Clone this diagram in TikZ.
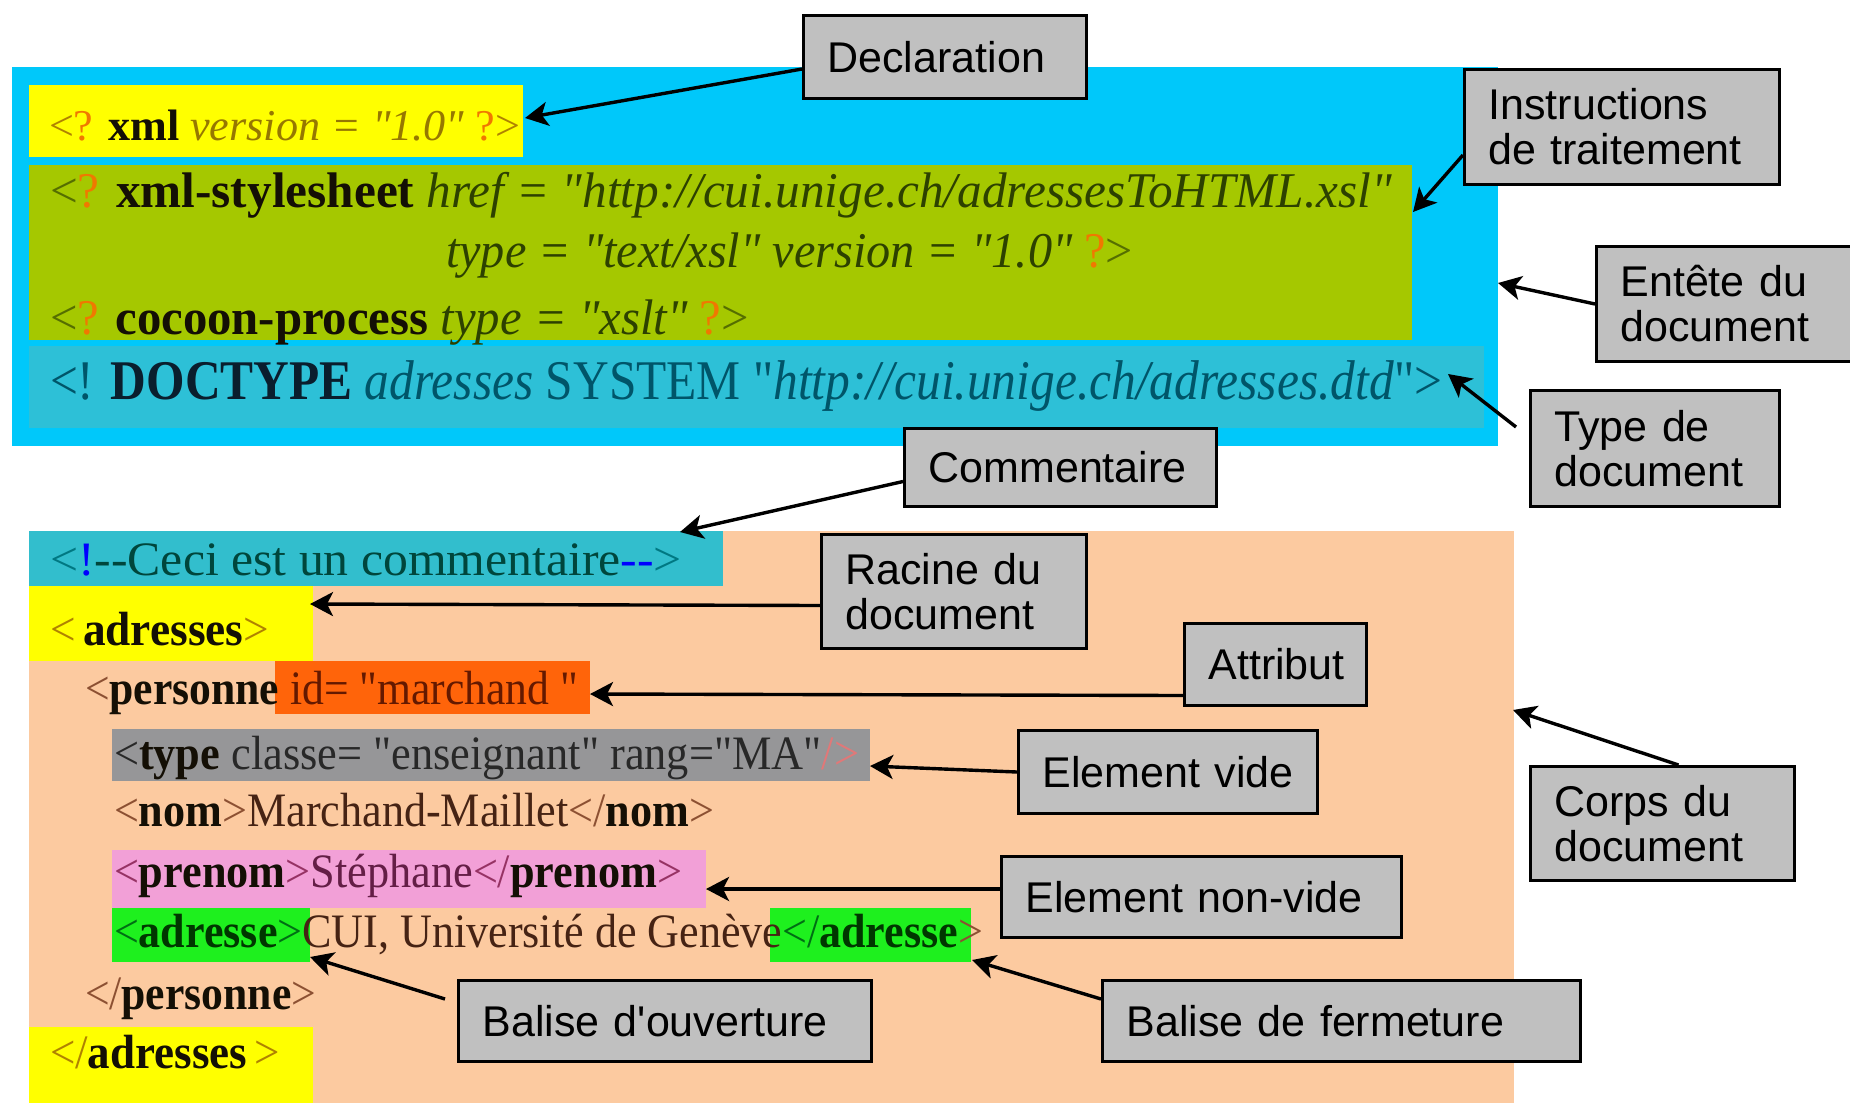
\documentclass[tikz,border=0pt]{standalone}
\usepackage{fontspec}
\usepackage{graphicx}
\setmainfont{Liberation Serif}
\newfontfamily\codefont{Liberation Serif}
\newfontfamily\lblfont{Liberation Sans}
\usetikzlibrary{arrows.meta}
\newcommand{\fitw}[2]{\resizebox{#1}{\height}{#2}}
\newcommand{\fsz}[1]{\codefont\fontsize{#1}{#1}\selectfont}
\definecolor{cblue}{RGB}{0,200,250}
\definecolor{cyel}{RGB}{255,255,0}
\definecolor{colive}{RGB}{165,200,0}
\definecolor{cteal}{RGB}{45,192,215}
\definecolor{cpeach}{RGB}{252,202,160}
\definecolor{ccomm}{RGB}{50,190,205}
\definecolor{corange}{RGB}{255,100,10}
\definecolor{cgray}{RGB}{150,150,152}
\definecolor{cpink}{RGB}{242,160,215}
\definecolor{cgreen}{RGB}{30,240,30}
\definecolor{lgray}{RGB}{192,192,192}
\definecolor{tq}{RGB}{240,120,0}
\definecolor{tgold}{RGB}{175,130,0}
\definecolor{tyelbr}{RGB}{150,120,0}
\definecolor{tol}{RGB}{85,110,0}
\definecolor{tgreen}{RGB}{45,65,0}
\definecolor{tteal}{RGB}{0,85,105}
\definecolor{tdoc}{RGB}{10,30,45}
\definecolor{tcteal}{RGB}{0,120,130}
\definecolor{tcdark}{RGB}{0,70,60}
\definecolor{tbrown}{RGB}{70,35,20}
\definecolor{tbr}{RGB}{140,80,50}
\definecolor{tred}{RGB}{100,25,0}
\definecolor{tdg}{RGB}{40,40,40}
\definecolor{tpr}{RGB}{225,120,120}
\definecolor{tpp}{RGB}{150,50,100}
\definecolor{tpd}{RGB}{100,30,70}
\definecolor{tgr}{RGB}{0,110,20}
\definecolor{tgd}{RGB}{0,55,0}
\definecolor{tblk}{RGB}{20,15,5}
\tikzset{
  code/.style={anchor=base west, inner sep=0pt, outer sep=0pt, text=tblk},
  lbl/.style={draw=black, line width=1.5pt, fill=lgray, anchor=north west,
    align=left, inner xsep=12pt, inner ysep=0pt, text=black,
    font=\lblfont\fontsize{21.5pt}{22.5pt}\selectfont},
  arr/.style={line width=1.7pt, -{Stealth[length=11.5pt,width=12pt,inset=3pt]}}
}
\begin{document}
\begin{tikzpicture}[x=0.5pt,y=-0.5pt]
\useasboundingbox (0,0) rectangle (1850,1103);
\fill[white] (0,0) rectangle (1850,1103);
% header regions
\fill[cblue] (12,67) rectangle (1498,446);
\fill[cyel] (29,85) rectangle (523,157);
\fill[colive] (29,165) rectangle (1412,340);
\fill[cteal] (29,346) rectangle (1484,428);
% body regions
\fill[cpeach] (29,531) rectangle (1514,1103);
\fill[ccomm] (29,531) rectangle (723,586);
\fill[cyel] (29,586) rectangle (313,661);
\fill[corange] (275,661) rectangle (590,714);
\fill[cgray] (112,729) rectangle (870,781);
\fill[cpink] (112,850) rectangle (706,908);
\fill[cgreen] (112,908) rectangle (310,962);
\fill[cgreen] (770,908) rectangle (971,962);
\fill[cyel] (29,1027) rectangle (313,1103);
% header code
\node[code, font=\fsz{22pt}] (l1) at (49,140) {\fitw{235.5pt}{{\color{tgold}<}{\color{tq}?} \textbf{xml} {\itshape\color{tyelbr}version = "1.0"} {\color{tq}?}{\color{tgold}>}}};
\node[code, font=\fsz{25pt}] (l2) at (50,207) {\fitw{671pt}{{\color{tol}<}{\color{tq}?} \textbf{xml-stylesheet} {\itshape\color{tgreen}href = "http://cui.unige.ch/adressesToHTML.xsl"}}};
\node[code, font=\fsz{25pt}] (l3) at (446,267) {\fitw{343.5pt}{{\itshape\color{tgreen}type = "text/xsl" version = "1.0"} {\color{tq}?}{\color{tol}>}}};
\node[code, font=\fsz{25pt}] (l4) at (50,334) {\fitw{349.5pt}{{\color{tol}<}{\color{tq}?} \textbf{cocoon-process} {\itshape\color{tgreen}type = "xslt"} {\color{tq}?}{\color{tol}>}}};
\node[code, font=\fsz{28pt}] (l5) at (50,399) {\fitw{696pt}{{\color{tteal}<!} {\bfseries\color{tdoc}DOCTYPE} {\itshape\color{tteal}adresses} {\color{tteal}SYSTEM "\textit{http://cui.unige.ch/adresses.dtd}">}}};
% body code
\node[code, font=\fsz{24pt}] (b1) at (50,575) {\fitw{316pt}{{\color{tcteal}<}{\color{blue}!}{\color{tcdark}--Ceci est un commentaire}{\color{blue}--}{\color{tcteal}>}}};
\node[code, font=\fsz{24pt}] (b2) at (50,645) {\fitw{109.5pt}{{\color{tgold}<\,}\textbf{adresses}{\color{tgold}>}}};
\node[code, font=\fsz{24pt}] (b3) at (85,704) {\fitw{246.5pt}{{\color{tbr}<}\textbf{personne} {\color{tred}id= "marchand "}}};
\node[code, font=\fsz{24pt}] (b4) at (114,769) {\fitw{372.5pt}{{\color{tdg}<}\textbf{type} {\color{tdg}classe= "enseignant" rang="MA"}{\color{tpr}/>}}};
\node[code, font=\fsz{24pt}] (b5) at (114,826) {\fitw{300pt}{{\color{tbr}<}\textbf{nom}{\color{tbr}>}{\color{tbrown}Marchand-Maillet}{\color{tbr}</}\textbf{nom}{\color{tbr}>}}};
\node[code, font=\fsz{24pt}] (b6) at (114,887) {\fitw{284pt}{{\color{tpp}<}\textbf{prenom}{\color{tpp}>}{\color{tpd}Stéphane}{\color{tpp}</}\textbf{prenom}{\color{tpp}>}}};
\node[code, font=\fsz{24pt}] (b7) at (114,947) {\fitw{434.5pt}{{\color{tgr}<}{\bfseries\color{tgd}adresse}{\color{tgr}>}{\color{tbrown}CUI, Université de Genève}{\color{tgr}</}{\bfseries\color{tgd}adresse}{\color{tbr}>}}};
\node[code, font=\fsz{24pt}] (b8) at (85,1009) {\fitw{115.5pt}{{\color{tbr}</}\textbf{personne}{\color{tbr}>}}};
\node[code, font=\fsz{24pt}] (b9) at (50,1068) {\fitw{115pt}{{\color{tgold}</}\textbf{adresses}{\color{tgold}\,>}}};
% labels
\node[lbl, text width=117.5pt, minimum height=41.5pt] (decl) at (802,14) {Declaration};
\node[lbl, text width=133.5pt, minimum height=57.5pt] (instr) at (1463,68) {Instructions\\de traitement};
\node[lbl, text width=103.5pt, minimum height=57.5pt] (entete) at (1595,245) {Entête du\\document};
\node[lbl, text width=100.5pt, minimum height=58pt] (typedoc) at (1529,389) {Type de\\document};
\node[lbl, text width=132pt, minimum height=39pt] (comm) at (903,427) {Commentaire};
\node[lbl, text width=108.5pt, minimum height=57pt] (racine) at (820,533) {Racine du\\document};
\node[lbl, text width=67pt, minimum height=41pt] (attr) at (1183,622) {Attribut};
\node[lbl, text width=125.5pt, minimum height=41.5pt] (vide) at (1017,729) {Element vide};
\node[lbl, text width=108pt, minimum height=57pt] (corps) at (1529,765) {Corps du\\document};
\node[lbl, text width=176pt, minimum height=40.5pt] (nonvide) at (1000,855) {Element non-vide};
\node[lbl, text width=182.5pt, minimum height=40.5pt] (ouv) at (457,979) {Balise d'ouverture};
\node[lbl, text width=215pt, minimum height=40.5pt] (ferm) at (1101,979) {Balise de fermeture};
% arrow targets
\coordinate (hDecl) at (525,118);
\coordinate (hInstr) at (1413,212);
\coordinate (hEntete) at (1498,283);
\coordinate (hType) at (1448,374);
\coordinate (hComm) at (680,532);
\coordinate (hRacine) at (310,604);
\coordinate (hAttr) at (590,694);
\coordinate (hVide) at (870,766);
\coordinate (hCorps) at (1513,710);
\coordinate (hNonvide) at (706,889);
\coordinate (hOuv) at (310,957);
\coordinate (hFerm) at (972,960);
% arrows
\draw[arr] ([yshift=-6pt]decl.west) -- (hDecl);
\draw[arr] ([yshift=-14pt]instr.west) -- (hInstr);
\draw[arr] (entete.west) -- (hEntete);
\draw[arr] ([xshift=-6.5pt,yshift=-19pt]typedoc.north west) -- (hType);
\draw[arr] ([yshift=-7pt]comm.west) -- (hComm);
\draw[arr] ([yshift=-7pt]racine.west) -- (hRacine);
\draw[arr] ([yshift=-15.5pt]attr.west) -- (hAttr);
\draw[arr] (vide.west) -- (hVide);
\draw[arr] ([xshift=8pt]corps.north) -- (hCorps);
\draw[arr] ([yshift=4pt]nonvide.west) -- (hNonvide);
\draw[arr] ([xshift=-6pt,yshift=11pt]ouv.west) -- (hOuv);
\draw[arr] ([yshift=11pt]ferm.west) -- (hFerm);
\end{tikzpicture}
\end{document}
